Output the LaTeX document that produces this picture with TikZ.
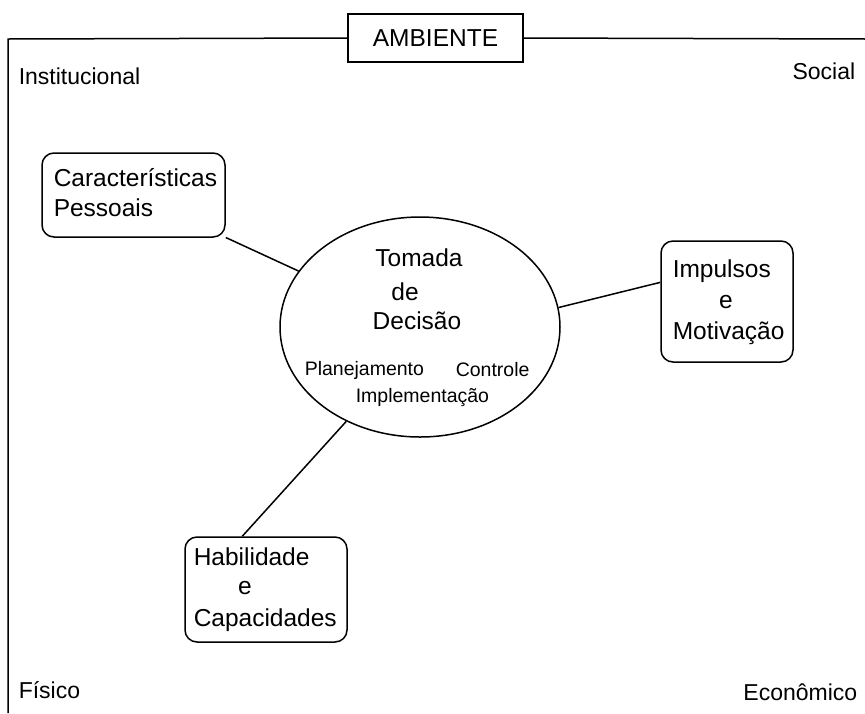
\documentclass[tikz,border=0pt]{standalone}
\usepackage{fontspec}
\setmainfont{Liberation Sans}
\usetikzlibrary{positioning}
\usetikzlibrary{shapes.geometric}

\begin{document}
\begin{tikzpicture}[
      x=1pt, y=-1pt,
      line width=1.5pt,
      block/.style ={rectangle, draw, rounded corners=12pt, inner sep=0pt},
      amb/.style ={inner sep=0pt, font=\fontsize{23}{28}\selectfont},
      txt/.style ={inner sep=0pt, font=\fontsize{24.5}{29}\selectfont},
      small/.style ={inner sep=0pt, font=\fontsize{19.5}{24}\selectfont}
    ]
    \useasboundingbox (0,0) rectangle (865,713);

    % moldura do ambiente
    \node [rectangle, draw, minimum width=175pt, minimum height=48pt, inner sep=0pt, txt] (ambiente) at (435.5,38) {AMBIENTE};
    \coordinate (fbl) at (8,713);
    \coordinate (ftl) at (8,39);
    \coordinate (ftr) at (866,39);
    \draw (fbl) -- (ftl) -- (ambiente.west);
    \draw (ambiente.east) -- (ftr);

    \node [amb, anchor=west] (inst) at (18,76) {Institucional};
    \node [amb, anchor=east] (social) at (856,71) {Social};
    \node [amb, anchor=west] (fisico) at (18,690) {Físico};
    \node [amb, anchor=east] (econ) at (858,692) {Econômico};

    % tomada de decisao
    \node [ellipse, draw, minimum width=280pt, minimum height=220pt, inner sep=0pt] (tomada) at (420,327) {};
    \node [txt] (t1) at (419,258) {Tomada};
    \node [txt] (t2) at (405,292) {de};
    \node [txt] (t3) at (417,321) {Decisão};
    \node [small, anchor=west] (plan) at (304,370) {Planejamento};
    \node [small, anchor=west] (contr) at (455,370) {Controle};
    \node [small, anchor=west] (impl) at (355,397) {Implementação};

    % blocos
    \node [block, minimum width=183pt, minimum height=84pt] (carac) at (133.5,195) {};
    \node [txt, anchor=west] (c1) at (53,178) {Características};
    \node [txt, anchor=west] (c2) at (53,208) {Pessoais};

    \node [block, minimum width=132pt, minimum height=121pt] (impuls) at (727,301.5) {};
    \node [txt, anchor=west] (i1) at (672,271) {Impulsos};
    \node [txt] (i2) at (726,302) {e};
    \node [txt, anchor=west] (i3) at (672,333) {Motivação};

    \node [block, minimum width=162pt, minimum height=105pt] (habil) at (266,589.5) {};
    \node [txt, anchor=west] (h1) at (193,557) {Habilidade};
    \node [txt] (h2) at (245,588) {e};
    \node [txt, anchor=west] (h3) at (193,620) {Capacidades};

    % ligacoes
    \draw (carac) -- (tomada);
    \draw (tomada.8) -- (impuls.164);
    \draw (habil.114) -- (tomada.232);
  \end{tikzpicture}
\end{document}
